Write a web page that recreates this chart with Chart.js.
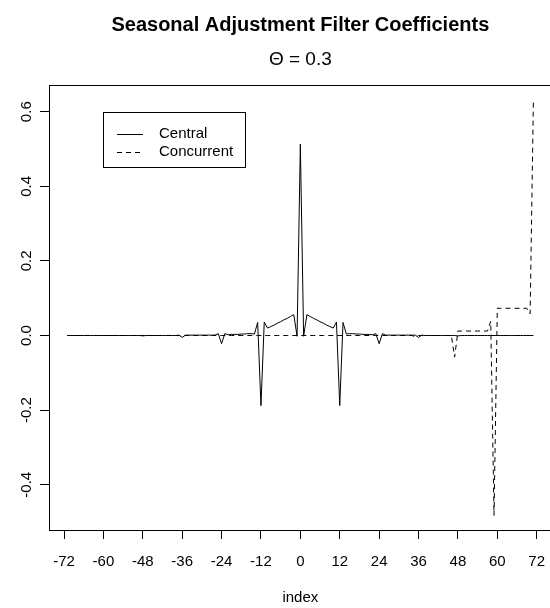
<!DOCTYPE html>
<html>
<head>
<meta charset="utf-8">
<title>Seasonal Adjustment Filter Coefficients</title>
<script src="https://cdn.jsdelivr.net/npm/chart.js@4.4.1/dist/chart.umd.min.js"></script>
<style>
    html, body { margin: 0; padding: 0; background: #fff; }
    #wrap { width: 550px; height: 608px; overflow: hidden; }
    canvas { display: block; }
</style>
</head>
<body>
<div id="wrap"><canvas id="filterChart" width="560" height="608"></canvas></div>
<script>
// Filter index (lag position), -71 .. 71
const index = Array.from({ length: 143 }, (_, i) => i - 71);

// Central (symmetric) filter weights, index -71 .. 71
const central = [
    0, 0, 0, 0, 0, 0, 0, 0, 0, 0, 0, 0, 0, 0, 0, 0, 0, 0, 0, 0, 0, 0, 0,
    -0.001, 0, 0, 0, 0, 0, 0, 0, 0, 0, 0, 0.001,
    -0.005, 0.001, 0.001, 0.001, 0.001, 0.001, 0.001, 0.001, 0.001, 0.001, 0.001, 0.005,
    -0.022, 0.005, 0.002, 0.003, 0.003, 0.003, 0.004, 0.004, 0.005, 0.005, 0.004, 0.035,
    -0.188, 0.036, 0.020, 0.024, 0.028, 0.033, 0.037, 0.042, 0.046, 0.051, 0.056, -0.002,
    0.513,
    -0.002, 0.056, 0.051, 0.046, 0.042, 0.037, 0.033, 0.028, 0.024, 0.020, 0.036, -0.188,
    0.035, 0.004, 0.005, 0.005, 0.004, 0.004, 0.003, 0.003, 0.003, 0.002, 0.005, -0.022,
    0.005, 0.001, 0.001, 0.001, 0.001, 0.001, 0.001, 0.001, 0.001, 0.001, 0.001, -0.005,
    0.001, 0, 0, 0, 0, 0, 0, 0, 0, 0, 0, -0.001,
    0, 0, 0, 0, 0, 0, 0, 0, 0, 0, 0, 0, 0, 0, 0, 0, 0, 0, 0, 0, 0, 0, 0
];

// Concurrent (one-sided) filter weights, index -71 .. 71
const concurrent = [
    0, 0, 0, 0, 0, 0, 0, 0, 0, 0, 0, 0,
    0, 0, 0, 0, 0, 0, 0, 0, 0, 0, 0, 0,
    0, 0, 0, 0, 0, 0, 0, 0, 0, 0, 0, 0,
    0, 0, 0, 0, 0, 0, 0, 0, 0, 0, 0, 0,
    0, 0, 0, 0, 0, 0, 0, 0, 0, 0, 0, 0,
    0, 0, 0, 0, 0, 0, 0, 0, 0, 0, 0, 0,
    0, 0, 0, 0, 0, 0, 0, 0, 0, 0, 0, 0,
    0, 0, 0, 0, 0, 0, 0, 0, 0, 0, 0, 0,
    0, 0, 0, 0, 0, 0, 0, 0, 0, 0,
    -0.004,
    0, 0, 0, 0, 0, 0, 0, 0, 0, 0, 0,
    -0.058,
    0.012, 0.012, 0.012, 0.012, 0.012, 0.012, 0.012, 0.012, 0.012, 0.012,
    0.038, -0.482,
    0.073, 0.073, 0.073, 0.073, 0.073, 0.073, 0.073, 0.073, 0.073, 0.073,
    0.058, 0.634
];

const seriesNames = ['Central', 'Concurrent'];
const xTicks = [-72, -60, -48, -36, -24, -12, 0, 12, 24, 36, 48, 60, 72];
const yTicks = [-0.4, -0.2, 0.0, 0.2, 0.4, 0.6];
const mainTitle = 'Seasonal Adjustment Filter Coefficients';
const subTitle = '\u0398 = 0.3';
const xTitle = 'index';

const FONT = '"Liberation Sans", Arial, Helvetica, sans-serif';

// box around the plot region (R style)
const plotBox = {
    id: 'plotBox',
    afterDraw(chart) {
        const { ctx, chartArea: a } = chart;
        ctx.save();
        ctx.strokeStyle = '#000';
        ctx.lineWidth = 1;
        ctx.strokeRect(Math.round(a.left) + 0.5, Math.round(a.top) + 0.5,
            Math.round(a.right - a.left), Math.round(a.bottom - a.top));
        ctx.restore();
    }
};

// main title and theta sub title, centred over the plot region
const titles = {
    id: 'titles',
    afterDraw(chart) {
        const { ctx, chartArea: a } = chart;
        const cx = (a.left + a.right) / 2;
        ctx.save();
        ctx.fillStyle = '#000';
        ctx.textAlign = 'center';
        ctx.textBaseline = 'middle';
        ctx.font = 'bold 20px ' + FONT;
        ctx.fillText(mainTitle, cx, 25);
        ctx.font = '19px ' + FONT;
        ctx.fillText(subTitle, cx, 60);
        ctx.restore();
    }
};

// y tick labels, rotated like R's default las = 0
const yLabels = {
    id: 'yLabels',
    afterDraw(chart) {
        const { ctx } = chart;
        const scale = chart.scales.y;
        ctx.save();
        ctx.fillStyle = '#000';
        ctx.font = '15px ' + FONT;
        ctx.textAlign = 'center';
        ctx.textBaseline = 'middle';
        scale.ticks.forEach(t => {
            const y = scale.getPixelForValue(t.value);
            ctx.save();
            ctx.translate(27, y);
            ctx.rotate(-Math.PI / 2);
            ctx.fillText(t.value.toFixed(1), 0, 0);
            ctx.restore();
        });
        ctx.restore();
    }
};

// legend box in the upper left of the plot
const legendBox = {
    id: 'legendBox',
    afterDraw(chart) {
        const { ctx } = chart;
        ctx.save();
        ctx.strokeStyle = '#000';
        ctx.lineWidth = 1;
        ctx.strokeRect(103.5, 112.5, 142, 55);
        ctx.font = '15px ' + FONT;
        ctx.fillStyle = '#000';
        ctx.textBaseline = 'middle';
        chart.data.datasets.forEach((ds, i) => {
            const y = 133.5 + i * 18.5;
            ctx.setLineDash(ds.borderDash || []);
            ctx.beginPath();
            ctx.moveTo(117, Math.round(y) + 0.5);
            ctx.lineTo(143, Math.round(y) + 0.5);
            ctx.stroke();
            ctx.setLineDash([]);
            ctx.fillText(ds.label, 159, y);
        });
        ctx.restore();
    }
};

document.addEventListener('DOMContentLoaded', function() {
    Chart.defaults.font.family = FONT;
    Chart.defaults.color = '#000';

    const ctx = document.getElementById('filterChart').getContext('2d');
    new Chart(ctx, {
        type: 'line',
        data: {
            datasets: [{
                label: seriesNames[0],
                data: index.map((x, i) => ({ x: x, y: central[i] })),
                borderColor: '#000',
                borderWidth: 1,
                pointRadius: 0,
                tension: 0,
                order: 1
            }, {
                label: seriesNames[1],
                data: index.map((x, i) => ({ x: x, y: concurrent[i] })),
                borderColor: '#000',
                borderWidth: 1,
                borderDash: [5, 4],
                pointRadius: 0,
                tension: 0,
                order: 0
            }]
        },
        options: {
            responsive: false,
            animation: false,
            devicePixelRatio: 1,
            layout: { padding: { top: 85, left: 0, right: 8.3, bottom: 0 } },
            plugins: {
                legend: { display: false },
                title: { display: false },
                tooltip: { enabled: false }
            },
            scales: {
                x: {
                    type: 'linear',
                    min: -76.57,
                    max: 76.57,
                    afterBuildTicks: scale => { scale.ticks = xTicks.map(v => ({ value: v })); },
                    afterFit: scale => { scale.height = 78; },
                    border: { display: false },
                    grid: { drawOnChartArea: false, drawTicks: true, tickLength: 9, color: '#000' },
                    ticks: {
                        autoSkip: false,
                        maxRotation: 0,
                        padding: 14,
                        font: { size: 15 },
                        callback: v => String(v)
                    },
                    title: {
                        display: true,
                        text: xTitle,
                        font: { size: 15 },
                        padding: { top: 0, bottom: 1 }
                    }
                },
                y: {
                    type: 'linear',
                    min: -0.5214,
                    max: 0.6716,
                    afterBuildTicks: scale => { scale.ticks = yTicks.map(v => ({ value: v })); },
                    afterFit: scale => { scale.width = 49; },
                    border: { display: false },
                    grid: { drawOnChartArea: false, drawTicks: true, tickLength: 9, color: '#000' },
                    ticks: { display: false }
                }
            }
        },
        plugins: [plotBox, titles, yLabels, legendBox]
    });
});
</script>
</body>
</html>
